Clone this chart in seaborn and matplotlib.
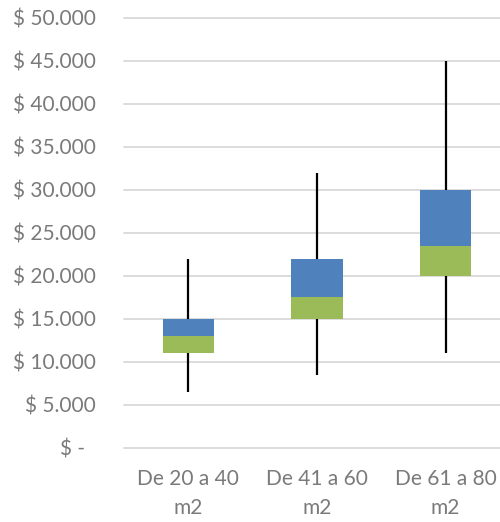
import matplotlib
matplotlib.use("Agg")
import matplotlib.pyplot as plt
import matplotlib.ticker as mticker
import seaborn as sns
import pandas as pd
import numpy as np

# data
categories = ["De 20 a 40\nm2", "De 41 a 60\nm2", "De 61 a 80\nm2"]
v_min = [6500, 8500, 11000]
q1 = [11000, 15000, 20000]
median = [13000, 17500, 23500]
q3 = [15000, 22000, 30000]
v_max = [22000, 32000, 45000]

df = pd.DataFrame({"cat": categories, "min": v_min, "q1": q1,
                   "med": median, "q3": q3, "max": v_max})
df["lower"] = df["med"] - df["q1"]
df["upper"] = df["q3"] - df["med"]

sns.set_style("white")
plt.rcParams["font.family"] = ["Lato", "DejaVu Sans"]
grey = "#7a7a7a"

fig = plt.figure(figsize=(5.0, 5.22), dpi=100)
ax = fig.add_axes([0.248, 0.1423, 0.772, 0.8238])

# whiskers
ax.vlines(np.arange(len(df)), df["min"], df["max"], color="black", lw=1.6, zorder=2)

sns.barplot(data=df, x="cat", y="lower", bottom=df["q1"], color="#9BBB59",
            width=0.4, saturation=1, linewidth=0, ax=ax, zorder=3)
sns.barplot(data=df, x="cat", y="upper", bottom=df["med"], color="#4F81BD",
            width=0.4, saturation=1, linewidth=0, ax=ax, zorder=3)

ax.set_xlim(-0.5, 2.5)
ax.set_ylim(0, 50000)
ax.set_yticks(np.arange(0, 50001, 5000))
ax.yaxis.set_major_formatter(mticker.FuncFormatter(
    lambda v, p: "$ -  " if v == 0 else "$ {:,.0f}".format(v).replace(",", ".")))
ax.grid(axis="y", color="#d9d9d9", lw=1.3, zorder=0)
ax.set_axisbelow(True)
for s in ax.spines.values():
    s.set_visible(False)
ax.tick_params(axis="y", length=0, pad=20, labelsize=15, labelcolor=grey)
ax.tick_params(axis="x", length=0, pad=15, labelsize=15, labelcolor=grey)
for t in ax.get_xticklabels():
    t.set_linespacing(1.6)
ax.set_xlabel("")
ax.set_ylabel("")
for g in ax.get_ygridlines():
    g.set_clip_on(False)

fig.savefig("out.png", dpi=100)
